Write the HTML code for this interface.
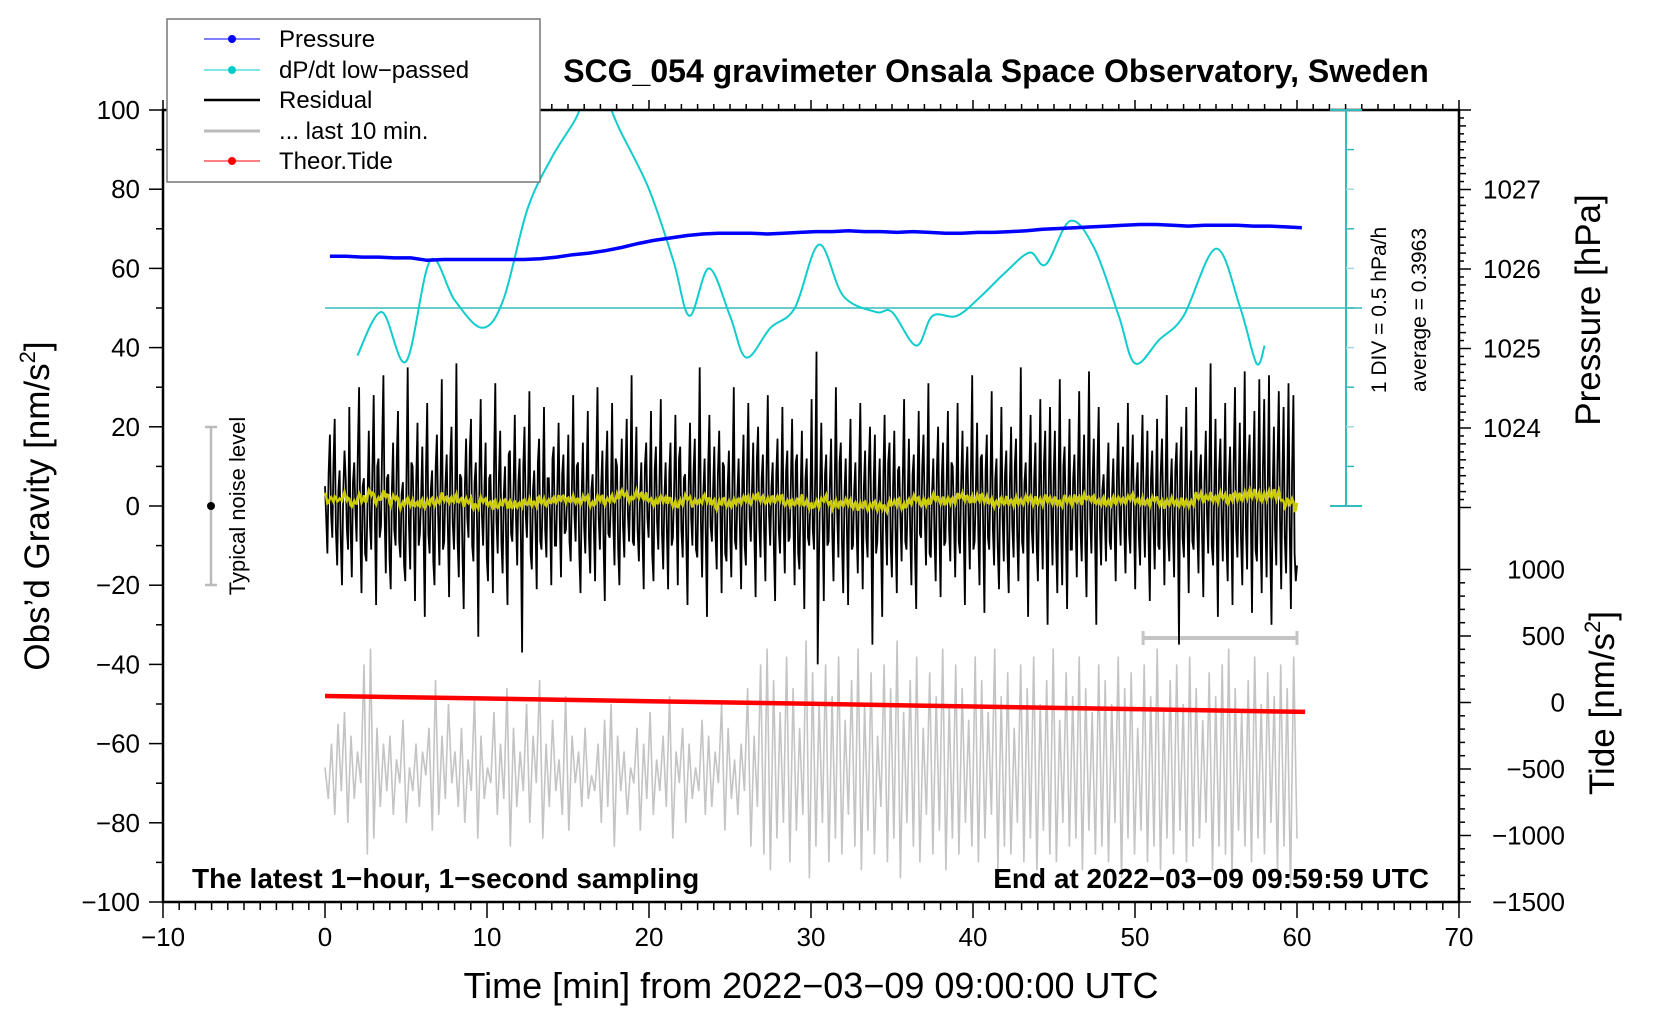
<!DOCTYPE html>
<html><head><meta charset="utf-8"><title>SCG_054 gravimeter</title>
<style>
html,body{margin:0;padding:0;background:#fff;}
svg{display:block;font-family:"Liberation Sans",Arial,sans-serif;}
</style></head>
<body>
<svg id="chart" width="1660" height="1020" viewBox="0 0 1660 1020" xmlns="http://www.w3.org/2000/svg">
<defs><clipPath id="plotclip"><rect x="163" y="110" width="1296" height="792"/></clipPath></defs>
<g id="ticks"></g>
<g id="series" clip-path="url(#plotclip)"></g>
<rect x="163" y="110" width="1296" height="792" fill="none" stroke="#000" stroke-width="2.5"/>
<text x="996" y="82" font-size="32" font-weight="bold" text-anchor="middle">SCG_054 gravimeter Onsala Space Observatory, Sweden</text>
<text x="811" y="998" font-size="36" text-anchor="middle">Time [min] from 2022−03−09 09:00:00 UTC</text>
<text transform="translate(49,506) rotate(-90)" font-size="35" text-anchor="middle">Obs’d Gravity [nm/s<tspan font-size="22" dy="-14">2</tspan><tspan dy="14">]</tspan></text>
<text transform="translate(1600,310) rotate(-90)" font-size="35" text-anchor="middle">Pressure [hPa]</text>
<text transform="translate(1614,703) rotate(-90)" font-size="35" text-anchor="middle">Tide [nm/s<tspan font-size="22" dy="-14">2</tspan><tspan dy="14">]</tspan></text>
<text x="192" y="888" font-size="28" font-weight="bold">The latest 1−hour, 1−second sampling</text>
<text x="1429" y="888" font-size="28" font-weight="bold" text-anchor="end">End at 2022−03−09 09:59:59 UTC</text>
<text transform="translate(1386,310) rotate(-90)" font-size="21" text-anchor="middle">1 DIV = 0.5 hPa/h</text>
<text transform="translate(1426,310) rotate(-90)" font-size="21" text-anchor="middle">average = 0.3963</text>
<g>
<line x1="211" y1="427" x2="211" y2="585" stroke="#bbb" stroke-width="2.5"/>
<line x1="205" y1="427" x2="217" y2="427" stroke="#bbb" stroke-width="2.5"/>
<line x1="205" y1="585" x2="217" y2="585" stroke="#bbb" stroke-width="2.5"/>
<circle cx="211" cy="506" r="4" fill="#000"/>
<text transform="translate(245,506) rotate(-90)" font-size="22" text-anchor="middle">Typical noise level</text>
</g>
<g>
<rect x="167" y="19" width="373" height="163" fill="#fff" stroke="#777" stroke-width="1.5"/>
<g><line x1="204" y1="39" x2="260" y2="39" stroke="#00f" stroke-width="1"/><circle cx="232" cy="39" r="4" fill="#00f"/><text x="279" y="47" font-size="24">Pressure</text></g>
<g><line x1="204" y1="70" x2="260" y2="70" stroke="#0cc" stroke-width="1"/><circle cx="232" cy="70" r="4" fill="#0cc"/><text x="279" y="78" font-size="24">dP/dt low−passed</text></g>
<g><line x1="204" y1="100" x2="260" y2="100" stroke="#000" stroke-width="2.5"/><text x="279" y="108" font-size="24">Residual</text></g>
<g><line x1="204" y1="131" x2="260" y2="131" stroke="#bbb" stroke-width="3"/><text x="279" y="139" font-size="24">... last 10 min.</text></g>
<g><line x1="204" y1="161" x2="260" y2="161" stroke="#f00" stroke-width="1"/><circle cx="232" cy="161" r="4" fill="#f00"/><text x="279" y="169" font-size="24">Theor.Tide</text></g>
</g>
</svg>
<script>
// ---- data ----
const residual = [
5,-3,-12,8,18,-2,-8,11,22,-6,-15,4,9,-9,-20,3,14,7,-6,-11,
25,-4,-18,6,11,-1,-9,13,30,-7,-22,5,7,-12,-14,2,19,-5,-11,9,
28,-3,-25,10,12,-8,-5,16,33,-2,-17,7,8,-13,-21,4,16,-6,-10,12,
24,-9,-13,3,6,-15,-19,8,35,-4,-16,11,10,-3,-24,6,21,-10,-7,2,
15,-5,-28,9,26,-7,-12,4,9,-14,-20,10,18,-2,-15,7,32,-11,-9,5,
13,-6,-23,12,20,-4,-11,3,36,-9,-18,8,7,-12,-26,5,17,-3,-8,14,
22,-10,-14,6,11,-5,-33,9,27,-2,-10,4,16,-13,-19,7,8,-6,-22,11,
31,-4,-12,8,19,-9,-17,3,10,-11,-25,13,14,-7,-9,5,23,-3,-15,6,
12,-8,-37,10,20,-2,-8,6,29,-12,-16,4,9,-5,-21,11,17,-9,-11,3,
25,-6,-13,7,7,-3,-20,12,15,-10,-10,5,21,-4,-18,8,13,-7,-6,2,
18,-9,-14,6,28,-2,-9,10,11,-12,-22,3,16,-5,-12,7,24,-8,-17,4,
8,-6,-19,11,30,-3,-11,5,14,-10,-24,9,19,-7,-8,2,26,-4,-15,12,
10,-11,-20,6,17,-5,-13,8,22,-2,-9,4,33,-9,-10,7,20,-6,-14,3,
11,-8,-21,10,16,-3,-8,5,24,-12,-19,9,15,-4,-11,6,27,-7,-16,2,
11,-5,-21,8,16,-10,-8,4,23,-2,-20,12,15,-6,-13,7,8,-9,-25,5,
21,-3,-10,9,17,-11,-13,6,35,-4,-18,3,12,-8,-28,10,23,-5,-9,4,
15,-7,-16,8,19,-2,-22,11,10,-12,-14,5,14,-6,-18,7,30,-9,-11,3,
12,-4,-21,6,18,-10,-15,9,26,-3,-9,4,16,-8,-23,12,20,-5,-13,7,
13,-7,-19,10,28,-2,-10,5,11,-11,-24,8,17,-6,-12,3,25,-4,-17,9,
14,-9,-8,6,22,-3,-20,11,13,-12,-16,4,19,-5,-26,7,12,-8,-10,2,
27,-6,-11,9,39,-40,-14,5,21,-3,-24,8,13,-10,-9,6,17,-7,-19,4,
30,-2,-13,11,16,-9,-22,3,12,-5,-25,7,22,-11,-10,4,11,-6,-17,9,
26,-3,-21,5,14,-8,-13,10,20,-2,-35,6,18,-12,-9,3,12,-7,-28,8,
23,-4,-15,11,16,-10,-18,5,19,-6,-22,9,10,-3,-14,7,27,-9,-11,2,
17,-5,-20,8,13,-11,-26,4,24,-7,-8,10,18,-2,-15,6,31,-12,-13,3,
12,-8,-19,9,20,-4,-23,7,16,-10,-9,5,24,-6,-14,11,10,-3,-18,4,
26,-9,-12,6,19,-5,-25,8,15,-2,-16,10,33,-11,-9,3,21,-7,-20,12,
13,-4,-27,9,18,-8,-11,5,29,-6,-15,7,12,-10,-21,4,25,-3,-14,8,
14,-12,-22,6,20,-5,-13,10,17,-7,-19,2,35,-9,-12,6,11,-4,-28,9,
23,-6,-12,7,16,-10,-19,4,27,-3,-16,11,19,-8,-30,5,25,-2,-15,8,
19,-9,-22,6,32,-5,-20,10,15,-7,-26,3,22,-11,-11,7,13,-4,-18,9,
29,-6,-14,5,18,-10,-23,8,34,-3,-12,6,17,-8,-30,11,25,-5,-15,4,
8,-3,-14,6,16,-9,-11,3,12,-5,-19,8,21,-2,-10,7,15,-6,-17,4,
26,-7,-12,9,18,-4,-21,5,11,-8,-15,10,23,-3,-13,6,19,-9,-24,7,
14,-5,-16,3,22,-10,-11,8,17,-2,-20,6,28,-7,-14,4,12,-6,-18,9,
16,-3,-35,10,20,-8,-13,5,25,-4,-22,7,14,-9,-11,3,30,-5,-17,8,
13,-7,-23,6,19,-2,-12,10,36,-10,-15,4,22,-6,-28,9,17,-3,-14,5,
26,-9,-19,7,15,-4,-25,11,30,-6,-13,3,21,-8,-20,6,34,-5,-16,10,
18,-2,-27,8,24,-11,-14,5,32,-7,-22,9,27,-4,-18,6,33,-10,-30,4,
20,-6,-15,11,29,-3,-21,7,25,-8,-17,5,31,-5,-26,9,28,-12,-19,-15
];
const grayLast10 = [
-66,-74,-60,-78,-55,-72,-52,-80,-58,-74,-62,-70,-40,-88,-36,-84,-56,-76,-60,-72,
-58,-78,-64,-70,-54,-80,-66,-72,-60,-76,-62,-68,-56,-82,-44,-78,-58,-74,-50,-70,
-62,-76,-56,-80,-64,-72,-48,-84,-58,-74,-66,-70,-52,-78,-60,-74,-46,-86,-56,-76,
-62,-72,-50,-80,-58,-70,-44,-84,-60,-76,-54,-72,-64,-78,-48,-82,-58,-70,-62,-76,
-56,-74,-68,-72,-60,-80,-54,-76,-50,-86,-58,-72,-62,-78,-66,-70,-56,-82,-60,-74,
-52,-78,-64,-72,-58,-76,-48,-84,-62,-70,-56,-80,-60,-74,-66,-72,-54,-78,-58,-76,
-62,-70,-50,-82,-56,-74,-64,-78,-60,-72,-46,-86,-58,-76,-40,-88,-36,-92,-44,-84,
-52,-80,-38,-90,-46,-82,-56,-78,-34,-94,-42,-86,-50,-80,-40,-90,-48,-84,-38,-88,
-54,-78,-44,-86,-36,-92,-50,-82,-42,-88,-58,-76,-40,-90,-46,-84,-34,-94,-52,-80,
-44,-86,-38,-90,-56,-78,-42,-88,-48,-82,-36,-92,-50,-84,-40,-88,-46,-80,-54,-86,
-38,-90,-44,-84,-52,-78,-36,-92,-48,-86,-42,-88,-56,-80,-40,-90,-46,-84,-38,-92,
-50,-82,-44,-88,-36,-90,-54,-80,-42,-86,-48,-84,-38,-92,-46,-82,-52,-88,-40,-86,
-44,-90,-50,-80,-38,-94,-46,-84,-42,-88,-56,-82,-40,-90,-48,-86,-36,-92,-52,-84,
-44,-88,-40,-82,-50,-90,-38,-86,-46,-84,-54,-80,-42,-92,-48,-86,-40,-88,-36,-94,
-46,-82,-52,-86,-44,-90,-38,-84,-50,-88,-42,-80,-48,-92,-40,-86,-46,-96,-38,-84
];
const pressureTimes = [];
for (let i = 0; i <= 60; i++) pressureTimes.push(i + 0.3);
const pressure = [
1026.16,1026.16,1026.15,1026.15,1026.14,1026.14,1026.11,1026.12,1026.12,1026.12,
1026.12,1026.12,1026.12,1026.13,1026.15,1026.18,1026.20,1026.23,1026.27,1026.32,
1026.36,1026.39,1026.42,1026.44,1026.45,1026.45,1026.45,1026.44,1026.45,1026.46,
1026.47,1026.47,1026.48,1026.47,1026.47,1026.46,1026.47,1026.46,1026.45,1026.45,
1026.46,1026.46,1026.47,1026.48,1026.50,1026.51,1026.52,1026.53,1026.54,1026.55,
1026.56,1026.56,1026.55,1026.54,1026.55,1026.55,1026.55,1026.54,1026.54,1026.53,1026.52
];
const dpdtTimes = [2,3.5,5,6.5,8,9.7,11,12.5,14,15.5,16.3,17.2,18.2,20,21.5,22.5,23.7,25,26,27.5,29,30.5,32,34,35,36.5,37.5,39,40.5,42,43.5,44.5,46,47.5,49,50,51.5,53,55,56.5,57.5,58];
const dpdtLeft = [38,49,36.5,62,52,45,52,75,88,98,106,104,95,80,62,48,60,48,37.5,45,50,66,53,49,49,40.5,48,48,53,59,64,61,72,65,48,36,42,48,65,50,36,40.5];
const dpdt = dpdtLeft.map(v => +(0.3963 + (v - 50) / 20).toFixed(4));
const tideTimes = [0,10,20,30,40,50,60.5];
const tide = [49,30,10,-10,-30,-50,-71];
const xTicks = [-10,0,10,20,30,40,50,60,70];
const yTicks = [-100,-80,-60,-40,-20,0,20,40,60,80,100];
const pTicks = [1024,1025,1026,1027];
const tideTicks = [-1500,-1000,-500,0,500,1000];

// ---- scales ----
const X = t => 325 + t * 16.2;
const YL = v => 506 - v * 3.96;
const YP = p => 269 - (p - 1026) * 79.5;
const YT = n => 902 - (n + 1500) * 0.133;
const YD = d => YL(50 + (d - 0.3963) * 20);
const NS = 'http://www.w3.org/2000/svg';
const ticksG = document.getElementById('ticks');
const seriesG = document.getElementById('series');
function mk(tag, attrs, parent) {
  const e = document.createElementNS(NS, tag);
  for (const k in attrs) e.setAttribute(k, attrs[k]);
  parent.appendChild(e);
  return e;
}
function txt(x, y, s, size, anchor, parent) {
  const e = mk('text', {x: x, y: y, 'font-size': size, 'text-anchor': anchor}, parent);
  e.textContent = s;
  return e;
}
const fmt = v => String(v).replace('-', '−');

for (let t = -10; t <= 70; t++) {
  const major = t % 10 === 0;
  const l1 = mk('line', {x1: X(t), x2: X(t), y1: 902, y2: 902 + (major ? 16 : 8), stroke: '#000', 'stroke-width': 1.5}, ticksG);
  
  
  const l2 = mk('line', {x1: X(t), x2: X(t), y1: 110, y2: 110 - (major ? 10 : 6), stroke: '#000', 'stroke-width': 1.5}, ticksG);
  
  
}
xTicks.forEach(t => {
  const e = txt(X(t), 946, fmt(t), 26, 'middle', ticksG);
  
  
});
for (let v = -100; v <= 100; v += 10) {
  const major = v % 20 === 0;
  const l = mk('line', {x1: 163 - (major ? 14 : 7), x2: 163, y1: YL(v), y2: YL(v), stroke: '#000', 'stroke-width': 1.5}, ticksG);
  
  
}
yTicks.forEach(v => {
  const e = txt(140, YL(v) + 9, fmt(v), 26, 'end', ticksG);
  
  
});
for (let k = 0; k <= 55; k++) {
  const p = 1023 + k * 0.1;
  const y = YP(p);
  if (y < 110 || y > 560) continue;
  const major = Math.abs(p - Math.round(p)) < 1e-6;
  const l = mk('line', {x1: 1459, x2: 1459 + (major ? 12 : (k % 2 ? 5 : 7)), y1: y, y2: y, stroke: '#000', 'stroke-width': 1.5}, ticksG);
  
  
}
pTicks.forEach(p => {
  const e = txt(1483, YP(p) + 9, String(p), 26, 'start', ticksG);
  
  
});
for (let n = -1500; n <= 1000; n += 100) {
  const major = n % 500 === 0;
  const l = mk('line', {x1: 1459, x2: 1459 + (major ? 12 : 6), y1: YT(n), y2: YT(n), stroke: '#000', 'stroke-width': 1.5}, ticksG);
  
  
}
tideTicks.forEach(n => {
  const e = txt(1565, YT(n) + 9, fmt(n), 26, 'end', ticksG);
  
  
});

const dAxis = mk('g', {}, document.getElementById('chart'));


mk('line', {x1: 1346, x2: 1346, y1: 110, y2: YL(0), stroke: '#3bb', 'stroke-width': 2}, dAxis);
mk('line', {x1: 1330, x2: 1362, y1: 110, y2: 110, stroke: '#3bb', 'stroke-width': 2}, dAxis);
mk('line', {x1: 1330, x2: 1362, y1: YL(0), y2: YL(0), stroke: '#3bb', 'stroke-width': 2}, dAxis);
for (let v = 10; v < 100; v += 10) {
  mk('line', {x1: 1346, x2: 1354, y1: YL(v), y2: YL(v), stroke: v % 20 ? '#3bb' : '#9dd', 'stroke-width': 1.5}, dAxis);
}
const avgLine = mk('line', {x1: X(0), x2: 1362, y1: YD(0.3963), y2: YD(0.3963), stroke: '#3bb', 'stroke-width': 1.5}, seriesG);



let d = '';
grayLast10.forEach((v, i) => { const t = i * 60 / (grayLast10.length - 1); d += (i ? 'L' : 'M') + X(t).toFixed(1) + ',' + YL(v).toFixed(1); });
const gp = mk('path', {d: d, fill: 'none', stroke: '#c4c4c4', 'stroke-width': 1.6}, seriesG);


const sb = mk('g', {}, seriesG);


mk('line', {x1: X(50.5), x2: X(60), y1: 638, y2: 638, stroke: '#c4c4c4', 'stroke-width': 4}, sb);
mk('line', {x1: X(50.5), x2: X(50.5), y1: 631, y2: 645, stroke: '#c4c4c4', 'stroke-width': 3}, sb);
mk('line', {x1: X(60), x2: X(60), y1: 631, y2: 645, stroke: '#c4c4c4', 'stroke-width': 3}, sb);

d = '';
residual.forEach((v, i) => { const t = i * 60 / (residual.length - 1); d += (i ? 'L' : 'M') + X(t).toFixed(1) + ',' + YL(v).toFixed(1); });
const rp = mk('path', {d: d, fill: 'none', stroke: '#000', 'stroke-width': 1.8}, seriesG);


d = '';
residual.forEach((v, i) => {
  let s = 0, c = 0;
  for (let k = i - 12; k <= i + 12; k++) if (k >= 0 && k < residual.length) { s += residual[k]; c++; }
  const t = i * 60 / (residual.length - 1);
  d += (i ? 'L' : 'M') + X(t).toFixed(1) + ',' + YL(s / c * 1.2 + 0.5).toFixed(1);
});
const yp = mk('path', {d: d, fill: 'none', stroke: '#cc0', 'stroke-width': 2.5}, seriesG);



d = '';
tideTimes.forEach((t, i) => { d += (i ? 'L' : 'M') + X(t).toFixed(1) + ',' + YT(tide[i]).toFixed(1); });
const tp = mk('path', {d: d, fill: 'none', stroke: '#f00', 'stroke-width': 4.5}, seriesG);



function smooth(xs, ys) {
  let s = 'M' + xs[0].toFixed(1) + ',' + ys[0].toFixed(1);
  for (let i = 0; i < xs.length - 1; i++) {
    const x0 = xs[Math.max(i - 1, 0)], y0 = ys[Math.max(i - 1, 0)];
    const x1 = xs[i], y1 = ys[i], x2 = xs[i + 1], y2 = ys[i + 1];
    const x3 = xs[Math.min(i + 2, xs.length - 1)], y3 = ys[Math.min(i + 2, xs.length - 1)];
    s += 'C' + (x1 + (x2 - x0) / 6).toFixed(1) + ',' + (y1 + (y2 - y0) / 6).toFixed(1) + ' ' +
         (x2 - (x3 - x1) / 6).toFixed(1) + ',' + (y2 - (y3 - y1) / 6).toFixed(1) + ' ' +
         x2.toFixed(1) + ',' + y2.toFixed(1);
  }
  return s;
}
const cp = mk('path', {d: smooth(dpdtTimes.map(X), dpdt.map(YD)), fill: 'none', stroke: '#1cc', 'stroke-width': 2}, seriesG);



d = '';
pressureTimes.forEach((t, i) => { d += (i ? 'L' : 'M') + X(t).toFixed(1) + ',' + YP(pressure[i]).toFixed(1); });
const pp = mk('path', {d: d, fill: 'none', stroke: '#00f', 'stroke-width': 3.5}, seriesG);


</script>
</body></html>
